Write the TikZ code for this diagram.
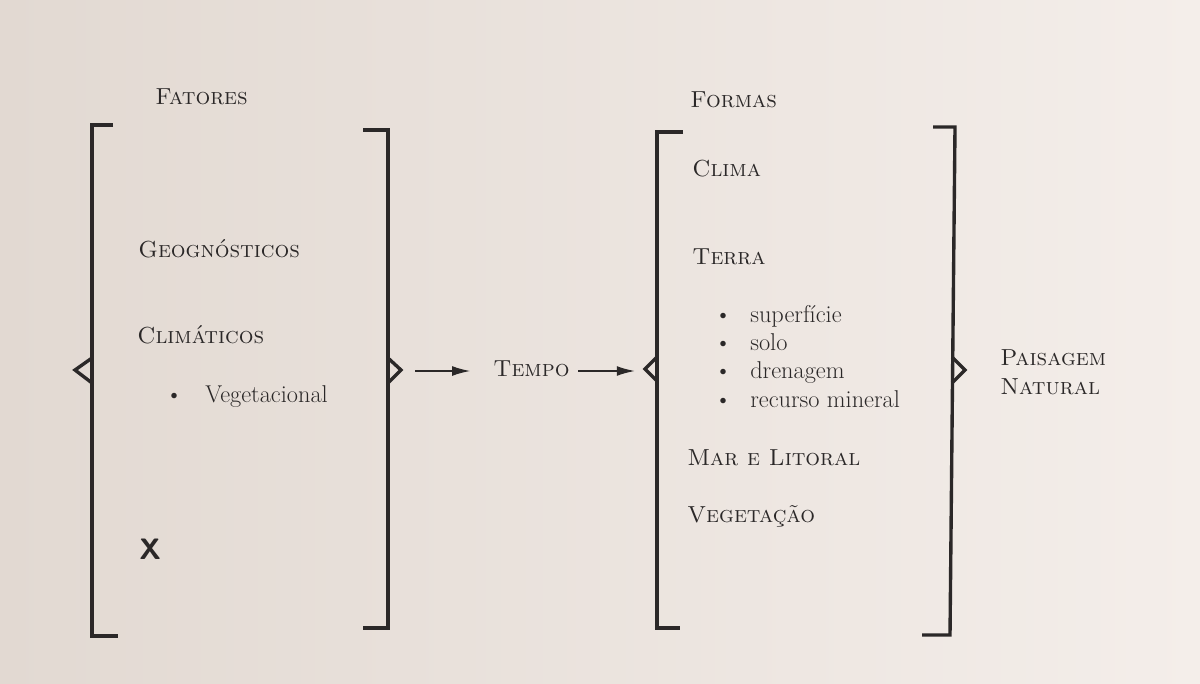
\documentclass[tikz,border=0pt]{standalone}
\usetikzlibrary{arrows.meta}
\definecolor{ink}{HTML}{2B2828}
\definecolor{paperL}{HTML}{E2D9D2}
\definecolor{paperR}{HTML}{F4EEEA}
\begin{document}
\begin{tikzpicture}[x=0.025cm,y=-0.025cm,
  brk/.style={draw=ink,line width=2.4pt,line join=miter},
  lbl/.style={anchor=base west,inner sep=0pt,text=ink,font=\fontsize{17.3}{20}\selectfont},
  sclbl/.style={lbl,font=\fontsize{16.5}{20}\selectfont\scshape},
  arr/.style={draw=ink,line width=1.3pt,-{Latex[length=13pt,width=7pt]}}]
\useasboundingbox (0,0) rectangle (1200,683);
\shade[left color=paperL,right color=paperR] (0,0) rectangle (1200,683);
% brackets
\draw[brk] (113,125)--(92,125)--(92,636)--(118,636);
\draw[brk] (92,358)--(75,370)--(92,383);
\draw[brk] (363,130)--(388,130)--(388,628)--(363,628);
\draw[brk] (388,358)--(401,370)--(388,383);
\draw[brk] (683,132)--(657,132)--(657,628)--(680,628);
\draw[brk] (657,357)--(645,369)--(657,381);
\draw[brk] (933,127)--(955,127)--(950,635)--(922,635);
\draw[brk] (952,357)--(965,370)--(952,383);
\coordinate (n1) at (401,371);
\coordinate (n2) at (645,371);
% left group
\node[sclbl] (fatores) at (155,104) {Fatores};
\node[sclbl] (geo) at (138,257) {Geognósticos};
\node[sclbl] (clim) at (137,343) {Climáticos};
\node[lbl] (b0) at (165,402) {\textbullet};
\node[lbl] (veg) at (205,402) {Vegetacional};
\node[lbl,font=\fontsize{21}{22}\selectfont\sffamily\bfseries] (x) at (139,559) {X};
% middle
\node[sclbl] (tempo) at (493,376) {Tempo};
\draw[arr,shorten <=10pt,shorten >=16pt] (n1) -- (n1 -| tempo.west);
\draw[arr,shorten <=6pt,shorten >=7pt] (tempo.east |- n2) -- (n2);
% right group
\node[sclbl] (formas) at (690,107) {Formas};
\node[sclbl] (clima) at (692,176) {Clima};
\node[sclbl] (terra) at (692,264) {Terra};
\node[lbl] (b1) at (714,322) {\textbullet};
\node[lbl] (sup) at (750,322) {superfície};
\node[lbl] (b2) at (714,350) {\textbullet};
\node[lbl] (solo) at (750,350) {solo};
\node[lbl] (b3) at (714,378) {\textbullet};
\node[lbl] (dren) at (750,378) {drenagem};
\node[lbl] (b4) at (714,407) {\textbullet};
\node[lbl] (rec) at (750,407) {recurso mineral};
\node[sclbl] (mar) at (687,465) {Mar e Litoral};
\node[sclbl] (vegt) at (687,522) {Vegetação};
\node[sclbl] (pais) at (1000,365) {Paisagem};
\node[sclbl] (nat) at (1000,394) {Natural};
\end{tikzpicture}
\end{document}
